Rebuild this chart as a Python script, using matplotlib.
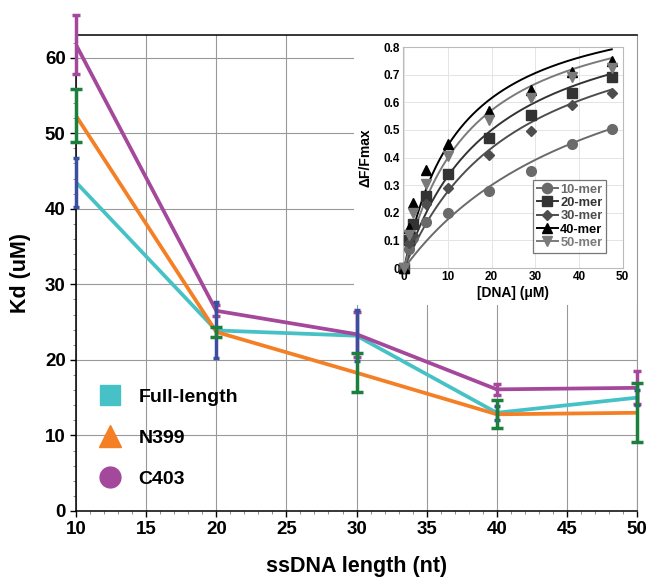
import numpy as np
import matplotlib
matplotlib.use('Agg')
import matplotlib.pyplot as plt
from matplotlib.patches import Rectangle
from matplotlib.lines import Line2D

plt.rcParams['font.family'] = ['Liberation Sans', 'DejaVu Sans']
plt.rcParams['font.weight'] = 'bold'

# main chart data
lengths = [10, 20, 30, 40, 50]
kd_full = [43.5, 23.9, 23.2, 13.0, 15.0]
err_full = [3.2, 3.7, 3.4, 0.95, 1.0]
kd_n399 = [52.3, 23.7, 18.3, 12.8, 13.0]
err_n399 = [3.5, 0.65, 2.55, 1.85, 3.9]
kd_c403 = [61.7, 26.5, 23.4, 16.1, 16.3]
err_c403 = [3.9, 0.7, 3.0, 0.7, 2.2]

# inset data
dna = [0, 1, 2, 5, 10, 19.5, 29, 38.5, 47.5]
mer10 = [0, 0.07, 0.11, 0.167, 0.20, 0.28, 0.35, 0.45, 0.505]
mer20 = [0, 0.10, 0.16, 0.26, 0.34, 0.47, 0.555, 0.635, 0.69]
mer30 = [0, 0.09, 0.12, 0.23, 0.29, 0.41, 0.495, 0.59, 0.635]
mer40 = [0, 0.145, 0.235, 0.355, 0.45, 0.57, 0.645, 0.71, 0.75]
mer50 = [0, 0.12, 0.20, 0.305, 0.405, 0.535, 0.615, 0.69, 0.725]
# hyperbolic fit Kd per series
fit_kd = [46.6, 20.0, 26.0, 12.5, 15.0]

c_full = '#46c2c6'
c_n399 = '#f47f24'
c_c403 = '#a4489c'
e_full = '#3a4f9f'
e_n399 = '#1c7f3e'

fig = plt.figure(figsize=(6.5, 5.77), dpi=100)
ax = fig.add_axes([0.117, 0.1144, 0.863, 0.8249])

ax.plot(lengths, kd_full, color=c_full, lw=2.7, zorder=3)
ax.plot(lengths, kd_n399, color=c_n399, lw=2.7, zorder=3)
ax.plot(lengths, kd_c403, color=c_c403, lw=2.7, zorder=3)

ax.errorbar(lengths, kd_c403, yerr=err_c403, fmt='none', ecolor=c_c403,
            elinewidth=2.5, capsize=3, capthick=2.5, zorder=4, clip_on=False)
ax.errorbar(lengths, kd_full, yerr=err_full, fmt='none', ecolor=e_full,
            elinewidth=2.5, capsize=2.5, capthick=2.5, zorder=5, clip_on=False)
ax.errorbar(lengths, kd_n399, yerr=err_n399, fmt='none', ecolor=e_n399,
            elinewidth=2.5, capsize=4.5, capthick=2.5, zorder=6, clip_on=False)

ax.set_xlim(10, 50)
ax.set_ylim(0, 63)
ax.set_xticks(range(10, 51, 5))
ax.set_yticks(range(0, 61, 10))
ax.set_xticks(range(10, 51, 1), minor=True)
ax.set_yticks(range(0, 63, 2), minor=True)
ax.grid(True, which='major', color='#999999', lw=0.8)
ax.tick_params(which='major', length=4, width=1, labelsize=13.5, direction='out')
ax.tick_params(which='minor', length=2, width=0.6, color='#777777')
for lab in ax.get_xticklabels() + ax.get_yticklabels():
    lab.set_fontweight('bold')
ax.spines['right'].set_color('#999999')
for s in ['left', 'bottom', 'top']:
    ax.spines[s].set_color('black')
    ax.spines[s].set_linewidth(1.1)

ax.set_xlabel('ssDNA length (nt)', fontsize=15.5, fontweight='bold', labelpad=13)
ax.set_ylabel('Kd (uM)', fontsize=15.5, fontweight='bold', labelpad=10)

handles = [
    Line2D([], [], ls='none', marker='s', ms=14.5, color=c_full),
    Line2D([], [], ls='none', marker='^', ms=16, color=c_n399),
    Line2D([], [], ls='none', marker='o', ms=15, color=c_c403),
]
leg = ax.legend(handles, ['Full-length', 'N399', 'C403'], loc='lower left',
                bbox_to_anchor=(-0.005, 0.012), frameon=False, fontsize=14,
                labelspacing=1.2, handletextpad=0.45, borderpad=0.4)
for t in leg.get_texts():
    t.set_fontweight('bold')

# white box behind the inset
ax.add_patch(Rectangle((29.85, 27.2), 20.15, 35.8, facecolor='white',
                       edgecolor='none', zorder=2.5))

ins = fig.add_axes([0.62, 0.5355, 0.338, 0.383])
styles = [
    (mer10, 'o', '#6a6a6a', '#6a6a6a', '10-mer', 7),
    (mer20, 's', '#333333', '#333333', '20-mer', 7),
    (mer30, 'D', '#4d4d4d', '#4d4d4d', '30-mer', 5),
    (mer40, '^', '#000000', '#000000', '40-mer', 7),
    (mer50, 'v', '#7a7a7a', '#7a7a7a', '50-mer', 7),
]
xs = np.linspace(0, 47.5, 200)
for (vals, mk, mc, lc, name, ms), k in zip(styles, fit_kd):
    ins.plot(xs, xs / (k + xs), color=lc, lw=1.4, zorder=2)
    ins.plot(dna, vals, ls='none', marker=mk, ms=ms, color=mc, zorder=3, clip_on=False)

ins.set_xlim(-0.3, 50)
ins.set_ylim(0, 0.8)
ins.set_xticks(range(0, 51, 10))
ins.set_yticks(np.arange(0, 0.81, 0.1))
ins.set_yticklabels(['0'] + ['%.1f' % v for v in np.arange(0.1, 0.81, 0.1)])
ins.grid(True, color='#e4e4e4', lw=0.7)
ins.tick_params(length=0, labelsize=8.5, pad=2)
for lab in ins.get_xticklabels() + ins.get_yticklabels():
    lab.set_fontweight('bold')
for s in ins.spines.values():
    s.set_color('#bbbbbb')
    s.set_linewidth(0.8)
ins.set_xlabel('[DNA] (\u03bcM)', fontsize=10, fontweight='bold', labelpad=2)
ins.set_ylabel('\u0394F/Fmax', fontsize=10, fontweight='bold', labelpad=8)

ih = [Line2D([], [], color=lc, lw=1.4, marker=mk, ms=ms * 1.05)
      for (vals, mk, mc, lc, name, ms) in styles]
il = ins.legend(ih, [s[4] for s in styles], loc='lower right',
                bbox_to_anchor=(0.955, 0.04), fontsize=9.3, frameon=True,
                fancybox=False, edgecolor='#555555', borderpad=0.3,
                labelspacing=0.1, handlelength=1.6, handletextpad=0.2)
il.get_frame().set_linewidth(0.9)
for t, st in zip(il.get_texts(), styles):
    t.set_fontweight('bold')
    t.set_color(st[3])

fig.savefig('out.png', dpi=100)
